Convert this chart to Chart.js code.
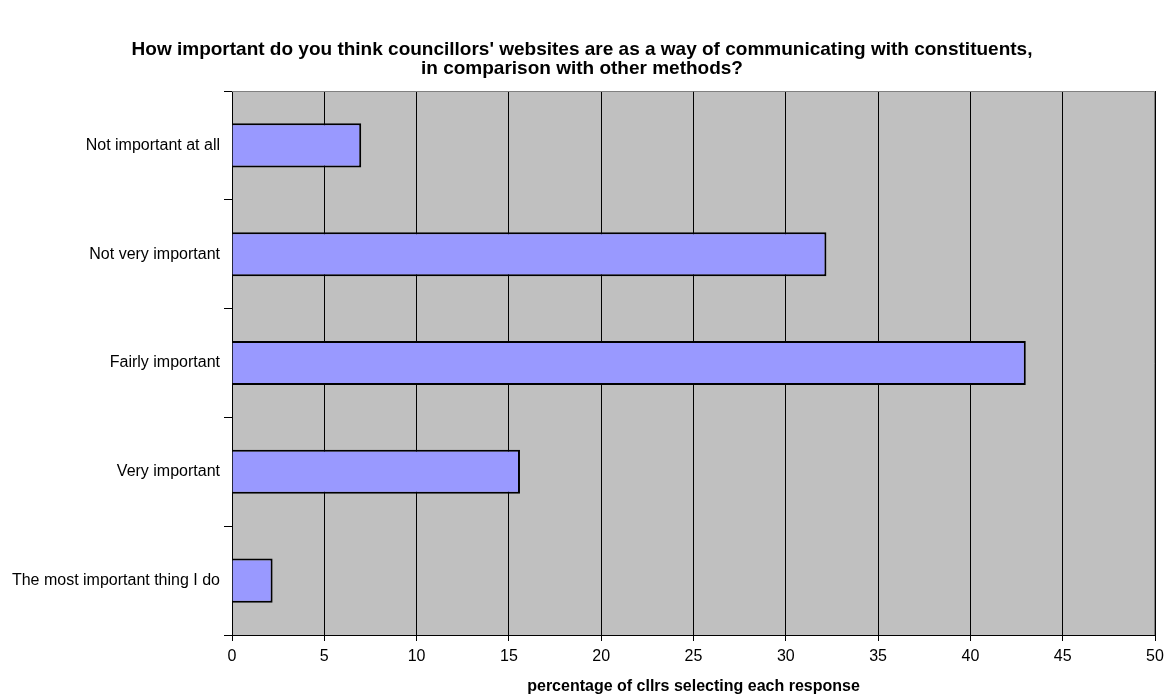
<!DOCTYPE html>
<html>
<head>
<meta charset="utf-8">
<script src="https://cdn.jsdelivr.net/npm/chart.js@4"></script>
<style>
  html, body { margin: 0; padding: 0; background: #fff; }
  #wrap { width: 1164px; height: 696px; }
</style>
</head>
<body>
<div id="wrap"><canvas id="barChart" width="1164" height="696"></canvas></div>
<script>
const categories = ['Not important at all', 'Not very important', 'Fairly important', 'Very important', 'The most important thing I do'];
const percentages = [7.0, 32.2, 43.0, 15.6, 2.2];
const xTicks = [0, 5, 10, 15, 20, 25, 30, 35, 40, 45, 50];
const chartTitle = ["How important do you think councillors' websites are as a way of communicating with constituents,", 'in comparison with other methods?'];
const xTitle = 'percentage of cllrs selecting each response';

const FONT = 'Arial, "Liberation Sans", sans-serif';

// grey plot area + grey top/right border like the original
const plotBackground = {
    id: 'plotBackground',
    beforeDraw(chart) {
        const a = chart.chartArea, c = chart.ctx;
        c.save();
        c.fillStyle = '#c0c0c0';
        c.fillRect(a.left, a.top, a.right - a.left, a.bottom - a.top);
        c.restore();
    },
    afterDatasetsDraw(chart) {
        const a = chart.chartArea, c = chart.ctx;
        c.save();
        c.strokeStyle = '#808080';
        c.lineWidth = 1;
        c.beginPath();
        c.moveTo(a.left, a.top + 0.5);
        c.lineTo(a.right - 0.5, a.top + 0.5);
        c.lineTo(a.right - 0.5, a.bottom);
        c.stroke();
        c.restore();
    }
};

new Chart(document.getElementById('barChart'), {
    type: 'bar',
    data: {
        labels: categories,
        datasets: [{
            data: percentages,
            backgroundColor: '#9999ff',
            borderColor: '#000000',
            borderWidth: 2,
            categoryPercentage: 1,
            barPercentage: 0.405
        }]
    },
    options: {
        indexAxis: 'y',
        responsive: false,
        animation: false,
        layout: { padding: { top: 0, right: 0, left: 0, bottom: 0 } },
        plugins: {
            legend: { display: false },
            tooltip: { enabled: false },
            title: {
                display: true,
                text: chartTitle,
                color: '#000',
                font: { family: FONT, size: 19, weight: 'bold', lineHeight: 1.0 },
                padding: { top: 40, bottom: 13 }
            }
        },
        scales: {
            x: {
                min: 0,
                max: 50,
                afterBuildTicks(scale) { scale.ticks = xTicks.map(v => ({ value: v })); },
                afterFit(scale) { scale.height = 61; scale.paddingRight = 9; scale.paddingLeft = 0; },
                grid: { color: '#000', lineWidth: 1, tickLength: 6, drawOnChartArea: true },
                border: { color: '#000', width: 1 },
                ticks: { color: '#000', font: { family: FONT, size: 16 }, padding: 6 },
                title: { display: true, text: xTitle, color: '#000', font: { family: FONT, size: 16, weight: 'bold' }, padding: { top: 4, bottom: 0 } }
            },
            y: {
                afterFit(scale) { scale.width = 232; },
                grid: { offset: true, drawOnChartArea: false, color: '#000', tickLength: 8 },
                border: { color: '#000', width: 1 },
                ticks: { color: '#000', font: { family: FONT, size: 16 }, padding: 4 }
            }
        }
    },
    plugins: [plotBackground]
});
</script>
</body>
</html>
